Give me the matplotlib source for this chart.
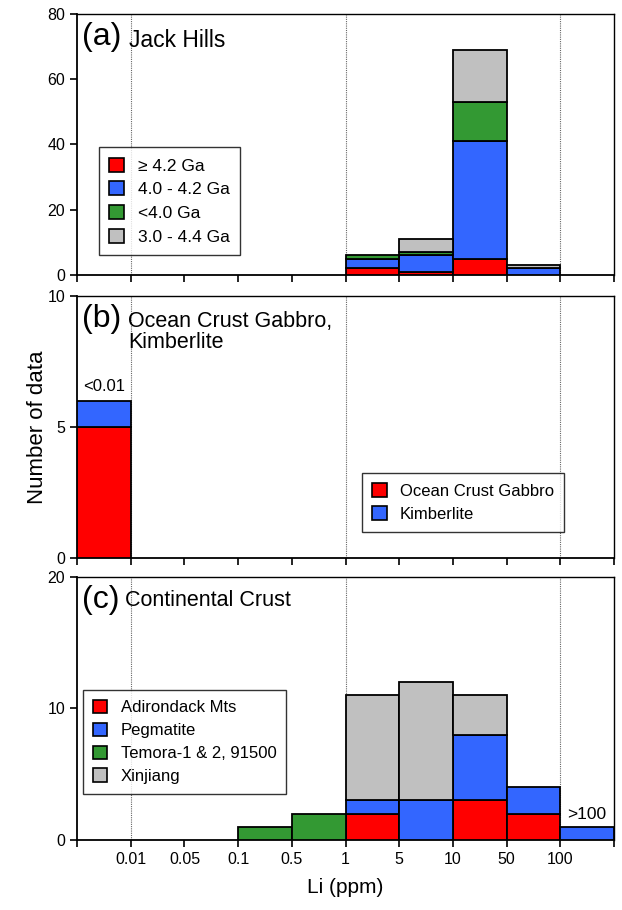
import numpy as np
import matplotlib.pyplot as plt
from matplotlib.patches import Patch

plt.rcParams['font.family'] = ['Liberation Sans', 'DejaVu Sans']

# bins: <0.01, 0.01-0.05, 0.05-0.1, 0.1-0.5, 0.5-1, 1-5, 5-10, 10-50, 50-100, >100
edge_labels = ['0.01', '0.05', '0.1', '0.5', '1', '5', '10', '50', '100']
nbins = 10

# (a) Jack Hills
a_labels = ['\u2265 4.2 Ga', '4.0 - 4.2 Ga', '<4.0 Ga', '3.0 - 4.4 Ga']
a_ge42 = [0, 0, 0, 0, 0, 2, 1, 5, 0, 0]
a_40_42 = [0, 0, 0, 0, 0, 3, 5, 36, 2, 0]
a_lt40 = [0, 0, 0, 0, 0, 1, 1, 12, 0, 0]
a_30_44 = [0, 0, 0, 0, 0, 0, 4, 16, 1, 0]

# (b) Ocean crust gabbro, kimberlite
b_labels = ['Ocean Crust Gabbro', 'Kimberlite']
b_gabbro = [5, 0, 0, 0, 0, 0, 0, 0, 0, 0]
b_kimb = [1, 0, 0, 0, 0, 0, 0, 0, 0, 0]

# (c) Continental crust
c_labels = ['Adirondack Mts', 'Pegmatite', 'Temora-1 & 2, 91500', 'Xinjiang']
c_adir = [0, 0, 0, 0, 0, 2, 0, 3, 2, 0]
c_pegm = [0, 0, 0, 0, 0, 1, 3, 5, 2, 1]
c_temora = [0, 0, 0, 1, 2, 0, 0, 0, 0, 0]
c_xinj = [0, 0, 0, 0, 0, 8, 9, 3, 0, 0]

colors = ['#ff0000', '#3366ff', '#339933', '#c0c0c0']

fig = plt.figure(figsize=(6.22, 9.10), dpi=100)
left, width = 0.124, 0.863
ax_a = fig.add_axes([left, 0.698, width, 0.2865])
ax_b = fig.add_axes([left, 0.387, width, 0.2875])
ax_c = fig.add_axes([left, 0.077, width, 0.289])

x = np.arange(nbins)


def stack(ax, series, cols):
    bottom = np.zeros(nbins)
    for s, c in zip(series, cols):
        s = np.array(s, dtype=float)
        mask = s > 0
        ax.bar(x[mask], s[mask], width=1, bottom=bottom[mask], align='edge',
               color=c, edgecolor='black', linewidth=1.3, zorder=3)
        bottom += s


def style(ax, ymax, yticks, show_xlabels):
    ax.set_xlim(0, nbins)
    ax.set_ylim(0, ymax)
    ax.set_yticks(yticks)
    ax.set_xticks(range(0, nbins + 1))
    if show_xlabels:
        ax.set_xticklabels([''] + edge_labels + [''])
    else:
        ax.set_xticklabels([])
    for xv in [1, 5, 9]:
        ax.axvline(xv, color='#666666', linestyle=(0, (1, 1)), linewidth=0.8,
                   zorder=1)
    ax.tick_params(direction='out', length=5, width=1.2, labelsize=11.5,
                   colors='black')
    for sp in ax.spines.values():
        sp.set_linewidth(1.3)
    ax.spines['top'].set_linewidth(1.0)
    ax.spines['right'].set_linewidth(1.0)


def legend(ax, labels, loc, anchor, fs):
    handles = [Patch(facecolor=c, edgecolor='black', linewidth=1.2)
               for c in colors[:len(labels)]]
    leg = ax.legend(handles, labels, loc=loc, bbox_to_anchor=anchor,
                    fontsize=fs, frameon=True, fancybox=False,
                    edgecolor='black', handlelength=0.85, handleheight=0.85,
                    handletextpad=0.8, labelspacing=0.45, borderpad=0.6,
                    borderaxespad=0)
    leg.get_frame().set_linewidth(1.0)
    leg.set_zorder(5)


stack(ax_a, [a_ge42, a_40_42, a_lt40, a_30_44], colors)
style(ax_a, 80, [0, 20, 40, 60, 80], False)
ax_a.text(0.1, 77.5, '(a)', fontsize=23, va='top')
ax_a.text(0.97, 75.5, 'Jack Hills', fontsize=16.5, va='top')
legend(ax_a, a_labels, 'lower left', (0.04, 0.075), 12.5)

stack(ax_b, [b_gabbro, b_kimb], colors[:2])
style(ax_b, 10, [0, 5, 10], False)
ax_b.text(0.1, 9.7, '(b)', fontsize=23, va='top')
ax_b.text(0.95, 9.45, 'Ocean Crust Gabbro,\nKimberlite', fontsize=15.5, va='top',
          linespacing=1.05)
ax_b.text(0.5, 6.25, '<0.01', fontsize=12, ha='center', va='bottom')
legend(ax_b, b_labels, 'lower right', (0.907, 0.1), 12)

stack(ax_c, [c_adir, c_pegm, c_temora, c_xinj], colors)
style(ax_c, 20, [0, 10, 20], True)
ax_c.text(0.1, 19.4, '(c)', fontsize=23, va='top')
ax_c.text(0.9, 19.0, 'Continental Crust', fontsize=15.5, va='top')
ax_c.text(9.5, 1.35, '>100', fontsize=12.5, ha='center', va='bottom')
legend(ax_c, c_labels, 'lower left', (0.011, 0.175), 12)
ax_c.set_xlabel('Li (ppm)', fontsize=15, labelpad=8)

fig.text(0.061, 0.531, 'Number of data', rotation=90, fontsize=16,
         ha='center', va='center')

fig.savefig('out.png', dpi=100)
